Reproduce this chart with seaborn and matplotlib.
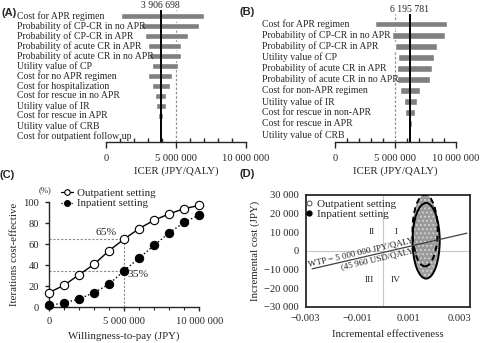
import matplotlib
matplotlib.use("Agg")
import matplotlib.pyplot as plt
import matplotlib.transforms as mtransforms
from matplotlib.patches import Ellipse
from matplotlib.lines import Line2D
from matplotlib.ticker import FuncFormatter, MultipleLocator, FixedLocator
import seaborn as sns
import pandas as pd

# ---------------- data ----------------
a_params = ["Cost for APR regimen", "Probability of CP-CR in no APR", "Probability of CP-CR in APR",
            "Probability of acute CR in APR", "Probability of acute CR in no APR", "Utility value of CP",
            "Cost for no APR regimen", "Cost for hospitalization", "Cost for rescue in no APR",
            "Utility value of IR", "Cost for rescue in APR", "Utility value of CRB",
            "Cost for outpatient follow up"]
a_low = [1.05e6, 2.52e6, 2.76e6, 3.00e6, 3.05e6, 3.29e6, 3.00e6, 3.26e6, 3.50e6, 3.60e6, 3.74e6, 3.89e6, 3.90e6]
a_high = [7.00e6, 6.64e6, 5.88e6, 5.36e6, 5.33e6, 5.17e6, 4.71e6, 4.57e6, 4.31e6, 4.31e6, 4.10e6, 3.92e6, 3.91e6]
a_base = 3906698

b_params = ["Cost for APR regimen", "Probability of CP-CR in no APR", "Probability of CP-CR in APR",
            "Utility value of CP", "Probability of acute CR in APR", "Probability of acute CR in no APR",
            "Cost for non-APR regimen", "Utility value of IR", "Cost for rescue in non-APR",
            "Cost for rescue in APR", "Utility value of CRB"]
b_low = [3.33e6, 4.74e6, 4.96e6, 5.23e6, 5.10e6, 5.15e6, 5.35e6, 5.73e6, 5.84e6, 6.06e6, 6.18e6]
b_high = [9.31e6, 9.12e6, 8.46e6, 8.21e6, 8.02e6, 7.90e6, 7.05e6, 6.80e6, 6.61e6, 6.36e6, 6.22e6]
b_base = 6195781

wtp_threshold = 5000000
c_wtp = [0, 1e6, 2e6, 3e6, 4e6, 5e6, 6e6, 7e6, 8e6, 9e6, 10e6]
c_outpatient = [14, 21, 31, 41, 54, 65, 75, 83, 89, 94, 97]
c_inpatient = [2, 4, 8, 14, 22, 35, 47, 59, 71, 81, 88]

# CE plane clouds (centre x, centre y, width, height)
d_out_ellipse = [0.00169, 5400, 0.00106, 40600]
d_in_ellipse = [0.00165, 10900, 0.00098, 38500]
wtp_line_x = [-0.00275, 0.00328]
wtp_line_y = [-9670, 9500]
quadrants = ["I", "II", "III", "IV"]
quad_x = [0.00053, -0.00042, -0.00053, 0.00052]
quad_y = [10000, 10000, -15600, -15600]

# ---------------- style ----------------
sns.set_theme(style="ticks")
plt.rcParams['font.family'] = ['Liberation Serif', 'DejaVu Serif']
plt.rcParams['axes.linewidth'] = 1.0
plt.rcParams['hatch.linewidth'] = 0.8

W, H = 480, 343
fig = plt.figure(figsize=(W / 100, H / 100), dpi=100)


def rect(x0, y0, x1, y1):
    return [x0 / W, 1 - y1 / H, (x1 - x0) / W, (y1 - y0) / H]


def space_fmt(v, pos=None):
    s = f"{abs(int(round(v))):,}".replace(",", " ")
    return ("\u2212" + s) if v < 0 else s


TICK_FS = 7.6
LAB_FS = 7.8
PAR_FS = 7.0
GREY = "#808080"


def tornado(ax, params, low, high, base, label_x, top_pad, bot_pad):
    n = len(params)
    df = pd.DataFrame({"param": params, "low": low, "high": high})
    ax.barh(range(n), df["high"] - df["low"], left=df["low"], height=0.62, color=GREY, zorder=2)
    ax.set_ylim(n - 1 + bot_pad, -top_pad)
    ax.set_xlim(0, 10e6)
    ax.axvline(base, color="black", lw=1.4, zorder=3)
    ax.axvline(wtp_threshold, color="#909090", lw=0.9, ls=(0, (2, 1.5)), zorder=1)
    for sp in ["left", "top", "right"]:
        ax.spines[sp].set_visible(False)
    ax.set_yticks([])
    ax.xaxis.set_major_locator(FixedLocator([0, 5e6, 10e6]))
    ax.xaxis.set_minor_locator(MultipleLocator(1e6))
    ax.xaxis.set_major_formatter(FuncFormatter(space_fmt))
    ax.tick_params(axis="x", which="major", direction="out", length=4, width=1, labelsize=TICK_FS, pad=5)
    ax.tick_params(axis="x", which="minor", direction="in", length=3, width=1)
    ax.set_xlabel("ICER (JPY/QALY)", fontsize=LAB_FS, labelpad=2)
    trans = mtransforms.blended_transform_factory(ax.transAxes, ax.transData)
    for i, p in enumerate(params):
        ax.text(label_x, i, p, transform=trans, ha="left", va="center", fontsize=PAR_FS)
    ax.text(base, 1.0, space_fmt(base), transform=mtransforms.blended_transform_factory(ax.transData, ax.transAxes),
            ha="center", va="bottom", fontsize=PAR_FS)


# ---- Panel A ----
axA = fig.add_axes(rect(106, 10, 246, 141.7))
tornado(axA, a_params, a_low, a_high, a_base, (17 - 106) / 140, 0.57, 0.57)

# ---- Panel B ----
axB = fig.add_axes(rect(335, 14, 455.7, 141.7))
tornado(axB, b_params, b_low, b_high, b_base, (262 - 335) / 120.7, 0.9, 0.6)

# ---- Panel C ----
axC = fig.add_axes(rect(49, 202.3, 199.3, 307.3))
dfc = pd.DataFrame({"wtp": c_wtp, "out": c_outpatient, "inp": c_inpatient})
sns.lineplot(data=dfc, x="wtp", y="out", ax=axC, color="black", lw=1.0, marker="o", markersize=6,
             markerfacecolor="white", markeredgecolor="black", markeredgewidth=0.8, clip_on=False, zorder=4)
sns.lineplot(data=dfc, x="wtp", y="inp", ax=axC, color="black", lw=1.0, ls=":", marker="o", markersize=6,
             markerfacecolor="black", markeredgecolor="black", clip_on=False, zorder=4)
gcol = "#8a8a8a"
axC.plot([0, wtp_threshold], [c_outpatient[5], c_outpatient[5]], color=gcol, lw=0.8, ls=(0, (2, 1.5)), zorder=2)
axC.plot([0, wtp_threshold], [c_inpatient[5], c_inpatient[5]], color=gcol, lw=0.8, ls=(0, (2, 1.5)), zorder=2)
axC.plot([wtp_threshold, wtp_threshold], [0, c_outpatient[5]], color=gcol, lw=0.8, ls=(0, (2, 1.5)), zorder=2)
axC.text(3.8e6, 71, f"{c_outpatient[5]}%", fontsize=8.2, ha="center", va="center")
axC.text(5.95e6, 31, f"{c_inpatient[5]}%", fontsize=8.2, ha="center", va="center")
axC.set_xlim(0, 10e6)
axC.set_ylim(0, 100)
for sp in ["top", "right"]:
    axC.spines[sp].set_visible(False)
axC.set_yticks([0, 20, 40, 60, 80, 100])
axC.xaxis.set_major_locator(FixedLocator([0, 5e6, 10e6]))
axC.xaxis.set_minor_locator(MultipleLocator(1e6))
axC.xaxis.set_major_formatter(FuncFormatter(space_fmt))
axC.tick_params(axis="both", which="major", direction="out", length=3, width=1, labelsize=TICK_FS, pad=4)
axC.tick_params(axis="x", which="minor", direction="out", length=2, width=0.8)
axC.set_xlabel("Willingness-to-pay (JPY)", fontsize=LAB_FS, labelpad=4)
axC.set_ylabel("Iterations cost-effective", fontsize=LAB_FS, labelpad=3)
fig.text(45 / W, 1 - 190 / H, "(%)", fontsize=6.2, ha="center", va="center")
hC = [Line2D([], [], color="black", lw=0.9, marker="o", ms=4, mfc="white", mec="black", mew=0.8),
      Line2D([], [], color="black", lw=0.9, ls=":", marker="o", ms=4, mfc="black", mec="black")]
axC.legend(hC, ["Outpatient setting", "Inpatient setting"], loc="upper left",
           bbox_to_anchor=(61 / W, 1 - 188 / H), bbox_transform=fig.transFigure, frameon=False,
           fontsize=7.8, handlelength=1.1, handletextpad=0.35, labelspacing=0.12, borderpad=0, borderaxespad=0)

# ---- Panel D ----
axD = fig.add_axes(rect(305.7, 195, 470, 306.7))
axD.set_xlim(-0.003, 0.0034)
axD.set_ylim(-30000, 30000)
axD.axvline(0, color="#c8c8c8", lw=0.8, zorder=0)
axD.axhline(0, color="#c8c8c8", lw=0.8, zorder=0)
cx, cy, w, h = d_out_ellipse
axD.add_patch(Ellipse((cx, cy), w, h, facecolor="#a0a0a0", edgecolor="#d4d4d4", lw=0, hatch="....", zorder=1))
dx, dy, dw, dh = d_in_ellipse
axD.add_patch(Ellipse((dx, dy), dw, dh, facecolor="#9a9a9a", edgecolor="#d4d4d4", lw=0, hatch="....", zorder=1))
axD.add_patch(Ellipse((cx, cy), w, h, facecolor="none", edgecolor="black", lw=1.4, zorder=3))
axD.add_patch(Ellipse((dx, dy), dw, dh, facecolor="none", edgecolor="black", lw=1.4, ls=(0, (3, 2)), zorder=3))
axD.plot(wtp_line_x, wtp_line_y, color="#404040", lw=0.9, zorder=4)
axD.text(-0.0008, -3200, "WTP = 5 000 000 JPY/QALY", rotation=13, rotation_mode="anchor",
         ha="center", va="bottom", fontsize=6.5, color="#202020", zorder=5)
axD.text(-0.0002, -2300, "(45 960 USD/QALY)", rotation=13, rotation_mode="anchor",
         ha="center", va="top", fontsize=6.5, color="#202020", zorder=5)
for q, qx, qy in zip(quadrants, quad_x, quad_y):
    axD.text(qx, qy, q, fontsize=6.8, ha="center", va="center")
axD.set_xticks([-0.003, -0.001, 0.001, 0.003])
axD.set_xticklabels(["\u22120.003", "\u22120.001", "0.001", "0.003"])
axD.set_yticks([-30000, -20000, -10000, 0, 10000, 20000, 30000])
axD.yaxis.set_major_formatter(FuncFormatter(space_fmt))
axD.tick_params(axis="both", which="major", length=0, labelsize=TICK_FS, pad=5)
for sp in axD.spines.values():
    sp.set_linewidth(1.3)
axD.set_xlabel("Incremental effectiveness", fontsize=LAB_FS, labelpad=5)
axD.set_ylabel("Incremental cost (JPY)", fontsize=LAB_FS, labelpad=3)
hD = [Line2D([], [], ls="", marker="o", ms=3.5, mfc="white", mec="#606060", mew=0.8),
      Line2D([], [], ls="", marker="o", ms=3.5, mfc="black", mec="black")]
axD.legend(hD, ["Outpatient setting", "Inpatient setting"], loc="upper left",
           bbox_to_anchor=(306 / W, 1 - 199 / H), bbox_transform=fig.transFigure, frameon=False,
           fontsize=8.0, handlelength=0.6, handletextpad=0.4, labelspacing=0.0, borderpad=0, borderaxespad=0)

# panel letters
for lab, px, py in [("(A)", 1, 13), ("(B)", 240, 12), ("(C)", 0, 175), ("(D)", 240, 174)]:
    fig.text(px / W, 1 - py / H, lab, fontsize=8, fontweight="bold", family="Liberation Sans",
             ha="left", va="center")

fig.savefig("out.png", dpi=100)
